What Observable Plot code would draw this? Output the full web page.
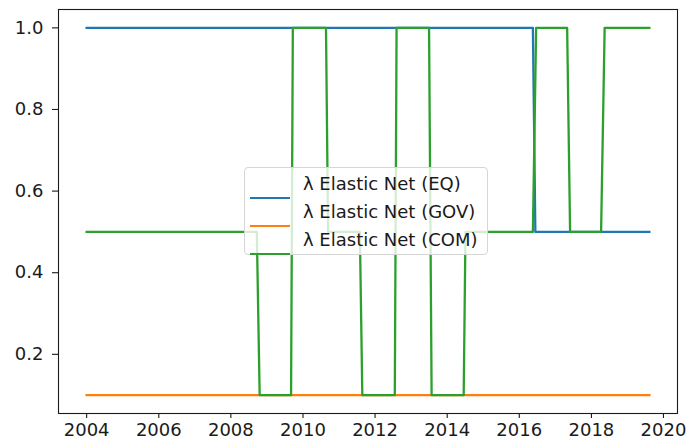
<!DOCTYPE html>
<html>
<head>
<meta charset="utf-8">
<script src="https://cdn.jsdelivr.net/npm/d3@7"></script>
<script src="https://cdn.jsdelivr.net/npm/@observablehq/plot@0.6"></script>
<style>
  html, body { margin: 0; padding: 0; background: #fff; }
  #chart { position: relative; width: 689px; height: 444px; font-family: "DejaVu Sans", sans-serif; }
  #chart svg { display: block; }
  .legend {
    position: absolute; left: 244px; top: 167px; width: 244px; height: 88px;
    box-sizing: border-box; border: 1px solid #d6d6d6; border-radius: 4px;
    background: rgba(255, 255, 255, 0.8);
    font-family: "DejaVu Sans", sans-serif; font-size: 18px; color: #1a1a1a;
  }
  .legend .row { position: absolute; left: 0; height: 28px; display: flex; align-items: center; }
  .legend .swatch { position: absolute; left: 5px; width: 40px; height: 0; border-top-width: 2.4px; border-top-style: solid; }
  .legend .label { position: absolute; left: 58px; white-space: nowrap; line-height: 28px; top: -14px; }
</style>
</head>
<body>
<div id="chart"></div>
<script>
// Penalty weight λ chosen by the elastic net, per asset class, over time.
const seriesNames = ["λ Elastic Net (EQ)", "λ Elastic Net (GOV)", "λ Elastic Net (COM)"];
const seriesColors = ["#1f77b4", "#ff7f0e", "#2ca02c"];

// Vertices of each step series (date, λ)
const eqDates = ["2004-01-01", "2016-05-18", "2016-06-12", "2019-08-11"];
const eqValues = [1.0, 1.0, 0.5, 0.5];

const govDates = ["2004-01-01", "2019-08-11"];
const govValues = [0.1, 0.1];

const comDates = [
  "2004-01-01", "2008-09-20", "2008-10-19", "2009-09-02", "2009-09-20",
  "2010-08-22", "2010-09-12", "2011-07-31", "2011-08-25", "2012-07-19",
  "2012-08-06", "2013-07-01", "2013-07-27", "2014-06-17", "2014-07-05",
  "2016-05-18", "2016-06-20", "2017-04-30", "2017-05-30", "2018-04-09",
  "2018-05-15", "2019-08-11"
];
const comValues = [
  0.5, 0.5, 0.1, 0.1, 1.0,
  1.0, 0.5, 0.5, 0.1, 0.1,
  1.0, 1.0, 0.1, 0.1, 0.5,
  0.5, 1.0, 1.0, 0.5, 0.5,
  1.0, 1.0
];

const xTickYears = [2004, 2006, 2008, 2010, 2012, 2014, 2016, 2018, 2020];
const yTicks = [0.2, 0.4, 0.6, 0.8, 1.0];

// Long-format table built from the arrays above
const rows = [
  ...eqDates.map((d, i) => ({series: seriesNames[0], date: new Date(d), value: eqValues[i]})),
  ...govDates.map((d, i) => ({series: seriesNames[1], date: new Date(d), value: govValues[i]})),
  ...comDates.map((d, i) => ({series: seriesNames[2], date: new Date(d), value: comValues[i]}))
];

// 5% padding around the data extent on both axes
const [t0, t1] = d3.extent(rows, d => d.date);
const tPad = (t1 - t0) * 0.05;
const [v0, v1] = d3.extent(rows, d => d.value);
const vPad = (v1 - v0) * 0.05;

const plot = Plot.plot({
  width: 689,
  height: 444,
  marginLeft: 58,
  marginRight: 12,
  marginTop: 9,
  marginBottom: 31,
  style: {fontFamily: "DejaVu Sans, sans-serif", fontSize: "18px", color: "#1a1a1a", background: "#fff"},
  x: {type: "utc", domain: [new Date(+t0 - tPad), new Date(+t1 + tPad)]},
  y: {domain: [v0 - vPad, v1 + vPad]},
  color: {domain: seriesNames, range: seriesColors},
  marks: [
    Plot.line(rows, {
      x: "date", y: "value", z: "series", stroke: "series",
      strokeWidth: 2.3, strokeLinecap: "square", strokeLinejoin: "round", curve: "linear"
    }),
    Plot.frame({stroke: "#1a1a1a", strokeWidth: 1.1}),
    Plot.axisX(xTickYears.map(y => new Date(Date.UTC(y, 0, 1))), {
      tickFormat: d3.utcFormat("%Y"), tickSize: 5, tickPadding: 5, label: null,
      stroke: "#1a1a1a", strokeWidth: 1.1, fontSize: 18
    }),
    Plot.axisY(yTicks, {
      tickFormat: d3.format(".1f"), tickSize: 6, tickPadding: 9, label: null,
      stroke: "#1a1a1a", strokeWidth: 1.1, fontSize: 18
    })
  ]
});

const chart = document.getElementById("chart");
chart.appendChild(plot);

// Legend box drawn over the plot area
const legend = document.createElement("div");
legend.className = "legend";
seriesNames.forEach((name, i) => {
  const row = document.createElement("div");
  row.className = "row";
  row.style.top = (16 + i * 28) + "px";
  const sw = document.createElement("div");
  sw.className = "swatch";
  sw.style.borderTopColor = seriesColors[i];
  const lab = document.createElement("div");
  lab.className = "label";
  lab.textContent = name;
  row.appendChild(sw);
  row.appendChild(lab);
  legend.appendChild(row);
});
chart.appendChild(legend);
</script>
</body>
</html>
